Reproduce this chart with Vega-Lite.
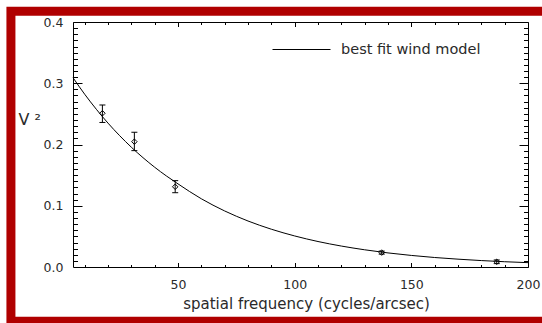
{
  "$schema": "https://vega.github.io/schema/vega-lite/v6.json",
  "width": 455,
  "height": 245,
  "autosize": "none",
  "padding": {"left": 73, "top": 22, "right": 14, "bottom": 56},
  "background": "white",
  "config": {
    "view": {"stroke": null},
    "axis": {
      "grid": false,
      "domainColor": "black",
      "domainWidth": 1,
      "tickColor": "black",
      "tickWidth": 1,
      "labelFont": "DejaVu Sans",
      "titleFont": "DejaVu Sans",
      "labelColor": "#2a2a2a",
      "titleColor": "#2a2a2a",
      "labelFontSize": 12.5,
      "titleFontWeight": "normal",
      "labelFlush": false,
      "labelOverlap": false
    }
  },
  "datasets": {
    "curve": [
      {"f": 5, "v2": 0.3091}, {"f": 10, "v2": 0.2821}, {"f": 15, "v2": 0.2575},
      {"f": 20, "v2": 0.2349}, {"f": 25, "v2": 0.2144}, {"f": 30, "v2": 0.1956},
      {"f": 35, "v2": 0.1785}, {"f": 40, "v2": 0.1629}, {"f": 45, "v2": 0.1487},
      {"f": 50, "v2": 0.1357}, {"f": 60, "v2": 0.1114}, {"f": 70, "v2": 0.0915},
      {"f": 80, "v2": 0.0751}, {"f": 90, "v2": 0.0617}, {"f": 100, "v2": 0.0507},
      {"f": 110, "v2": 0.0416}, {"f": 120, "v2": 0.0342}, {"f": 130, "v2": 0.0281},
      {"f": 140, "v2": 0.0230}, {"f": 150, "v2": 0.0189}, {"f": 160, "v2": 0.0155},
      {"f": 170, "v2": 0.0128}, {"f": 180, "v2": 0.0105}, {"f": 190, "v2": 0.0086},
      {"f": 200, "v2": 0.0071}
    ],
    "obs": [
      {"f": 17.6, "v2": 0.251, "lo": 0.236, "hi": 0.2645},
      {"f": 31.3, "v2": 0.2046, "lo": 0.190, "hi": 0.220},
      {"f": 48.8, "v2": 0.131, "lo": 0.1213, "hi": 0.141},
      {"f": 137.3, "v2": 0.0235, "lo": 0.021, "hi": 0.026},
      {"f": 186.6, "v2": 0.0085, "lo": 0.0055, "hi": 0.0115}
    ]
  },
  "resolve": {"axis": {"x": "independent", "y": "independent"}},
  "layer": [
    {
      "data": {"values": [{}]},
      "mark": {"type": "rect", "filled": false, "stroke": "#b00000", "strokeWidth": 9},
      "encoding": {
        "x": {"datum": -21.6, "type": "quantitative", "scale": {"domain": [5, 200], "nice": false, "zero": false}, "axis": null},
        "x2": {"datum": 213.8},
        "y": {"datum": 0.4175, "type": "quantitative", "scale": {"domain": [0, 0.4], "nice": false, "zero": false}, "axis": null},
        "y2": {"datum": -0.0887}
      }
    },
    {
      "data": {"name": "curve"},
      "mark": {"type": "line", "interpolate": "monotone", "strokeWidth": 1},
      "encoding": {
        "x": {"field": "f", "type": "quantitative", "scale": {"domain": [5, 200], "nice": false, "zero": false},
          "axis": {"orient": "bottom", "values": [50, 100, 150, 200], "ticks": false, "domain": true, "labelPadding": 11,
            "title": "spatial frequency (cycles/arcsec)", "titleFontSize": 15, "titleX": 233, "titleY": 41.5, "titleBaseline": "alphabetic"}},
        "y": {"field": "v2", "type": "quantitative", "scale": {"domain": [0, 0.4], "nice": false, "zero": false},
          "axis": {"orient": "left", "values": [0, 0.1, 0.2, 0.3, 0.4], "format": ".1f", "ticks": false, "domain": true, "labelPadding": 10,
            "title": "V ²", "titleFontSize": 16, "titleAngle": 0, "titleX": -55, "titleY": 97, "titleAlign": "left", "titleBaseline": "middle"}},
        "color": {"datum": "best fit wind model", "scale": {"range": ["black"]},
          "legend": {"orient": "none", "legendX": 199, "legendY": -2, "title": null, "symbolType": "stroke", "symbolSize": 3364,
            "symbolStrokeWidth": 1, "labelFont": "DejaVu Sans", "labelFontSize": 14.5, "labelColor": "#2a2a2a", "labelOffset": 10, "padding": 0}}
      }
    },
    {
      "data": {"name": "obs"},
      "mark": {"type": "point", "shape": "diamond", "size": 30, "filled": false, "stroke": "black", "strokeWidth": 1, "opacity": 1},
      "encoding": {
        "x": {"field": "f", "type": "quantitative", "scale": {"domain": [5, 200], "nice": false, "zero": false},
          "axis": {"orient": "bottom", "values": [50, 100, 150, 200], "labels": false, "domain": false, "tickSize": -4.5, "title": null}},
        "y": {"field": "v2", "type": "quantitative", "scale": {"domain": [0, 0.4], "nice": false, "zero": false},
          "axis": {"orient": "left", "values": [0.1, 0.2, 0.3, 0.4], "labels": false, "domain": false, "tickSize": -9, "title": null}}
      }
    },
    {
      "data": {"name": "obs"},
      "mark": {"type": "rule", "color": "black", "strokeWidth": 1},
      "encoding": {
        "x": {"field": "f", "type": "quantitative", "scale": {"domain": [5, 200], "nice": false, "zero": false},
          "axis": {"orient": "bottom", "values": [10, 20, 30, 40, 60, 70, 80, 90, 110, 120, 130, 140, 160, 170, 180, 190], "labels": false, "domain": false, "tickSize": -2.5, "title": null}},
        "y": {"field": "lo", "type": "quantitative", "scale": {"domain": [0, 0.4], "nice": false, "zero": false},
          "axis": {"orient": "left", "values": [0.01, 0.02, 0.03, 0.04, 0.05, 0.06, 0.07, 0.08, 0.09, 0.11, 0.12, 0.13, 0.14, 0.15, 0.16, 0.17, 0.18, 0.19, 0.21, 0.22, 0.23, 0.24, 0.25, 0.26, 0.27, 0.28, 0.29, 0.31, 0.32, 0.33, 0.34, 0.35, 0.36, 0.37, 0.38, 0.39], "labels": false, "domain": false, "tickSize": -4.5, "title": null}},
        "y2": {"field": "hi"}
      }
    },
    {
      "data": {"name": "obs"},
      "mark": {"type": "tick", "orient": "horizontal", "size": 6, "thickness": 1, "color": "black", "opacity": 1},
      "encoding": {
        "x": {"field": "f", "type": "quantitative", "scale": {"domain": [5, 200], "nice": false, "zero": false},
          "axis": {"orient": "top", "values": [50, 100, 150, 200], "labels": false, "domain": true, "tickSize": -4.5, "title": null}},
        "y": {"field": "lo", "type": "quantitative", "scale": {"domain": [0, 0.4], "nice": false, "zero": false},
          "axis": {"orient": "right", "values": [0.1, 0.2, 0.3], "labels": false, "domain": true, "tickSize": -9, "title": null}}
      }
    },
    {
      "data": {"name": "obs"},
      "mark": {"type": "tick", "orient": "horizontal", "size": 6, "thickness": 1, "color": "black", "opacity": 1},
      "encoding": {
        "x": {"field": "f", "type": "quantitative", "scale": {"domain": [5, 200], "nice": false, "zero": false},
          "axis": {"orient": "top", "values": [10, 20, 30, 40, 60, 70, 80, 90, 110, 120, 130, 140, 160, 170, 180, 190], "labels": false, "domain": false, "tickSize": -2.5, "title": null}},
        "y": {"field": "hi", "type": "quantitative", "scale": {"domain": [0, 0.4], "nice": false, "zero": false},
          "axis": {"orient": "right", "values": [0.01, 0.02, 0.03, 0.04, 0.05, 0.06, 0.07, 0.08, 0.09, 0.11, 0.12, 0.13, 0.14, 0.15, 0.16, 0.17, 0.18, 0.19, 0.21, 0.22, 0.23, 0.24, 0.25, 0.26, 0.27, 0.28, 0.29, 0.31, 0.32, 0.33, 0.34, 0.35, 0.36, 0.37, 0.38, 0.39], "labels": false, "domain": false, "tickSize": -4.5, "title": null}}
      }
    }
  ]
}
